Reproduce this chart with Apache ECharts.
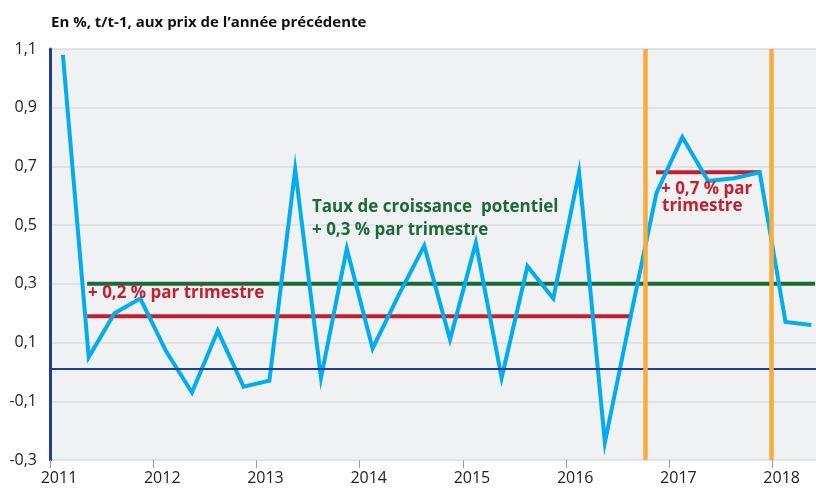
<!DOCTYPE html>
<html><head><meta charset="utf-8">
<script src="https://cdn.jsdelivr.net/npm/echarts@6/dist/echarts.min.js"></script>
<style>html,body{margin:0;padding:0;background:#fff}#c{width:816px;height:489px}</style>
</head><body><div id="c"></div>
<script>
// Quarterly GDP growth, 2011Q1 .. 2018Q2 (mid-quarter positions)
const startYear = 2011;
const growth = [
  1.08, 0.05, 0.20, 0.25,
  0.07, -0.07, 0.14, -0.05,
  -0.03, 0.69, -0.02, 0.42,
  0.08, 0.26, 0.43, 0.11,
  0.44, -0.02, 0.36, 0.25,
  0.68, -0.24, 0.19, 0.61,
  0.80, 0.65, 0.66, 0.68,
  0.17, 0.16
];
const potentialLine = [[2011.36, 0.3], [2018.41, 0.3]];
const trend1Line = [[2011.36, 0.19], [2016.64, 0.19]];
const trend2Line = [[2016.87, 0.68], [2017.88, 0.68]];
const orangeMarks = [2016.77, 2017.99];
const zeroLine = 0.012;
const yTicks = [-0.3, -0.1, 0.1, 0.3, 0.5, 0.7, 0.9, 1.1];
const yearLabels = [2011, 2012, 2013, 2014, 2015, 2016, 2017, 2018];

const growthData = growth.map((v, i) => [startYear + 0.125 + 0.25 * i, v]);
const FONT = '"Open Sans"';

const chart = echarts.init(document.getElementById('c'), null, {renderer: 'canvas'});
chart.setOption({
  animation: false,
  textStyle: {fontFamily: FONT},
  title: {
    text: 'En %, t/t-1, aux prix de l’année précédente',
    left: 46, top: 10,
    textStyle: {fontFamily: FONT, fontSize: 15, fontWeight: 'bold', color: '#111'}
  },
  grid: {left: 50, right: 0, top: 49, bottom: 29, show: true, backgroundColor: '#f0f1f3', borderWidth: 0},
  xAxis: {
    type: 'value', min: 2011, max: 2018.42, interval: 1,
    axisLine: {show: false, onZero: false},
    axisTick: {show: true, length: 8, customValues: yearLabels, lineStyle: {color: '#9a9a9a', width: 1}},
    splitLine: {show: false},
    axisLabel: {
      fontFamily: FONT, fontSize: 16, color: '#222', margin: 10, padding: [0, 0, 0, 18],
      customValues: yearLabels,
      formatter: v => yearLabels.includes(Math.round(v)) && Math.abs(v - Math.round(v)) < 1e-6 ? String(Math.round(v)) : ''
    }
  },
  yAxis: {
    type: 'value', min: -0.3, max: 1.1, interval: 0.2,
    axisLine: {show: true, lineStyle: {color: '#1d3f97', width: 3}},
    axisTick: {show: false},
    splitLine: {show: true, lineStyle: {color: '#dcdde0', width: 1.5}},
    axisLabel: {
      fontFamily: FONT, fontSize: 16, color: '#222', margin: 13,
      formatter: v => {
        const r = Math.round(v * 10) / 10;
        return yTicks.some(t => Math.abs(t - r) < 1e-6) ? r.toFixed(1).replace('.', ',') : '';
      }
    }
  },
  series: [
    {type: 'line', data: potentialLine, symbol: 'none', z: 2,
     lineStyle: {color: '#1b6a38', width: 4}},
    {type: 'line', data: trend1Line, symbol: 'none', z: 2,
     lineStyle: {color: '#c3202f', width: 4}},
    {type: 'line', data: trend2Line, symbol: 'none', z: 2,
     lineStyle: {color: '#c3202f', width: 4}},
    {type: 'line', data: growthData, symbol: 'none', z: 3,
     lineStyle: {color: '#00adef', width: 4, join: 'miter'},
     markLine: {silent: true, symbol: 'none', label: {show: false}, animation: false,
       lineStyle: {color: '#1d3f97', width: 2, type: 'solid'},
       data: [{yAxis: zeroLine}]}},
    {type: 'line', data: [], z: 5,
     markLine: {silent: true, symbol: 'none', label: {show: false}, animation: false, z: 5,
       lineStyle: {color: '#f9ab3c', width: 4.5, type: 'solid'},
       data: orangeMarks.map(x => ({xAxis: x}))}}
  ],
  graphic: [
    {type: 'text', left: 312, top: 199, z: 10, style: {text: 'Taux de croissance  potentiel', fill: '#1b6a38', font: 'bold 17px ' + FONT}},
    {type: 'text', left: 312, top: 222, z: 10, style: {text: '+ 0,3 % par trimestre', fill: '#1b6a38', font: 'bold 17px ' + FONT}},
    {type: 'text', left: 88, top: 285, z: 10, style: {text: '+ 0,2 % par trimestre', fill: '#c3202f', font: 'bold 17px ' + FONT}},
    {type: 'text', left: 661, top: 181, z: 10, style: {text: '+ 0,7 % par', fill: '#c3202f', font: 'bold 17px ' + FONT}},
    {type: 'text', left: 662, top: 198, z: 10, style: {text: 'trimestre', fill: '#c3202f', font: 'bold 17px ' + FONT}}
  ]
});
</script></body></html>
